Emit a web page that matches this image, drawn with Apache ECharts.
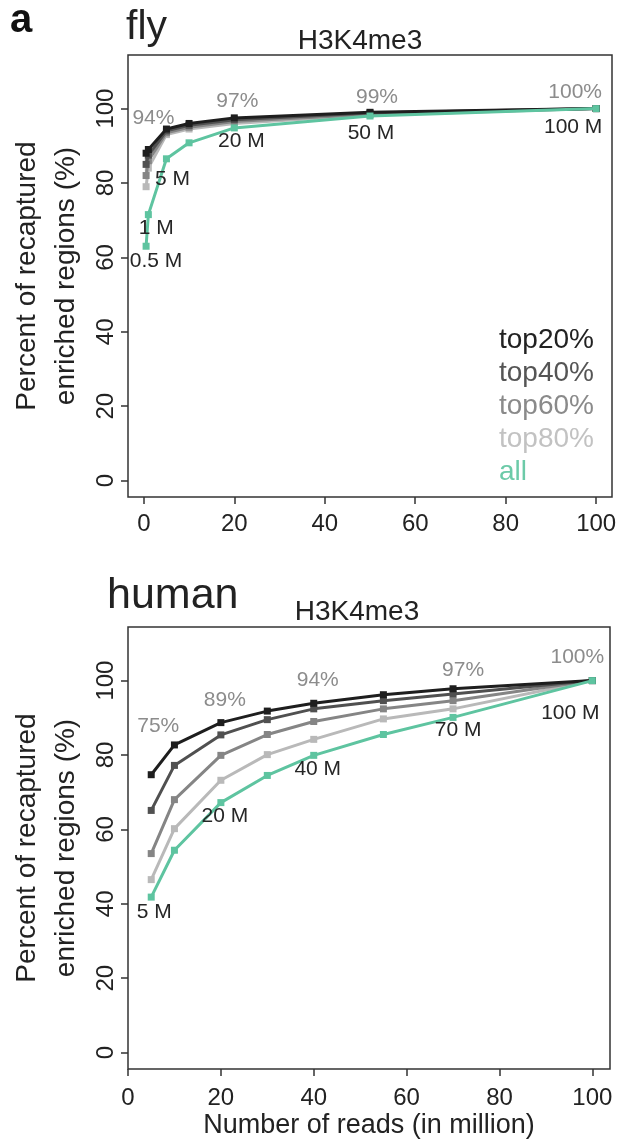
<!DOCTYPE html>
<html><head><meta charset="utf-8">
<script src="https://cdn.jsdelivr.net/npm/echarts@6/dist/echarts.min.js"></script>
<style>html,body{margin:0;padding:0;background:#fff}#c{width:621px;height:1144px}</style>
</head><body><div id="c"></div><script>
// ---------- data ----------
const seriesNames = ['top20%', 'top40%', 'top60%', 'top80%', 'all'];
const xTicks = [0, 20, 40, 60, 80, 100];
const yTicks = [0, 20, 40, 60, 80, 100];

const flyReads = [0.5, 1, 5, 10, 20, 50, 100];
const flyTop20 = [88, 89, 94.5, 96, 97.5, 99, 100];
const flyTop40 = [85, 87.5, 94, 95.5, 97, 98.8, 100];
const flyTop60 = [82, 86, 93.5, 95, 96.5, 98.5, 100];
const flyTop80 = [79, 84, 93, 94.5, 96, 98.3, 100];
const flyAll   = [63, 71.5, 86.5, 90.8, 94.8, 98, 100];
const flyReadLabels = ['0.5 M', '1 M', '5 M', '', '20 M', '50 M', '100 M'];
const flyPctLabels  = ['', '', '94%', '', '97%', '99%', '100%'];

const humanReads = [5, 10, 20, 30, 40, 55, 70, 100];
const humanTop20 = [74.7, 82.7, 88.7, 91.8, 93.9, 96.2, 97.8, 100];
const humanTop40 = [65.1, 77.2, 85.4, 89.5, 92.4, 94.6, 96.4, 100];
const humanTop60 = [53.5, 68.0, 79.9, 85.5, 89.0, 92.4, 94.6, 100];
const humanTop80 = [46.5, 60.2, 73.2, 80.1, 84.2, 89.7, 92.4, 100];
const humanAll   = [41.8, 54.4, 67.2, 74.5, 79.9, 85.5, 90.1, 100];
const humanReadLabels = ['5 M', '', '20 M', '', '40 M', '', '70 M', '100 M'];
const humanPctLabels  = ['75%', '', '89%', '', '94%', '', '97%', '100%'];

// ---------- styles ----------
const lineColors = ['#1e1e1e', '#505050', '#858585', '#b9b9b9', '#5ec4a0'];
const legendColors = ['#222222', '#555555', '#8a8a8a', '#c2c2c2', '#6ccaa8'];
const FONT = '"Liberation Sans", Arial, Helvetica, sans-serif';
const flyReadOff = [[10, 15], [8, 14], [6, 20], [0, 0], [7, 13], [1, 17], [-23, 19]];
const flyPctOff  = [[0, 0], [0, 0], [-13, -11], [0, 0], [3, -17], [7, -15], [-21, -16]];
const humanReadOff = [[3, 15], [0, 0], [4, 14], [0, 0], [4, 14], [0, 0], [5, 13], [-22, 33]];
const humanPctOff  = [[7, -49], [0, 0], [4, -22], [0, 0], [4, -23], [0, 0], [10, -19], [-15, -23]];

function buildSeries(gi, xs, ysList, readLabels, readOff, pctLabels, pctOff) {
  const order = [3, 2, 1, 0, 4];
  return order.map(k => {
    const data = xs.map((x, i) => {
      const item = { value: [x, ysList[k][i]] };
      if (k === 4 && readLabels[i]) {
        item.label = { show: true, formatter: readLabels[i], position: 'inside',
          offset: readOff[i], color: '#262626', fontSize: 21, fontFamily: FONT };
      }
      if (k === 0 && pctLabels[i]) {
        item.label = { show: true, formatter: pctLabels[i], position: 'inside',
          offset: pctOff[i], color: '#8c8c8c', fontSize: 21, fontFamily: FONT };
      }
      return item;
    });
    return {
      name: seriesNames[k], type: 'line', xAxisIndex: gi, yAxisIndex: gi,
      data, symbol: 'rect', symbolSize: 7, showSymbol: true,
      itemStyle: { color: lineColors[k] },
      lineStyle: { color: lineColors[k], width: 3 },
      label: { show: false }, emphasis: { disabled: true },
      z: k === 4 ? 10 : 5 - k, animation: false
    };
  });
}

function xAxisCfg(gi, min, max, margin, name) {
  return {
    type: 'value', gridIndex: gi, min, max,
    axisLine: { show: false, onZero: false },
    axisTick: { show: true, length: 7, lineStyle: { color: '#333', width: 1.5 }, customValues: xTicks },
    axisLabel: { customValues: xTicks, fontSize: 24, color: '#222', fontFamily: FONT, margin },
    splitLine: { show: false },
    name: name || '', nameLocation: 'middle', nameGap: 43,
    nameTextStyle: { fontSize: 27, color: '#222', fontFamily: FONT }
  };
}
function yAxisCfg(gi) {
  return {
    type: 'value', gridIndex: gi, min: -4.4, max: 114.4,
    axisLine: { show: false, onZero: false },
    axisTick: { show: true, length: 7, lineStyle: { color: '#333', width: 1.5 }, customValues: yTicks },
    axisLabel: { customValues: yTicks, fontSize: 24, color: '#222', fontFamily: FONT, rotate: 90, margin: 10 },
    splitLine: { show: false },
    name: 'Percent of recaptured\nenriched regions (%)', nameLocation: 'middle', nameRotate: 90, nameGap: 42,
    nameTextStyle: { fontSize: 28, color: '#222', fontFamily: FONT, lineHeight: 39 }
  };
}

const chart = echarts.init(document.getElementById('c'), null, { renderer: 'canvas' });
chart.setOption({
  backgroundColor: '#fff',
  animation: false,
  grid: [
    { left: 127, top: 55, width: 485, height: 442, show: true, borderColor: '#333', borderWidth: 1.5, backgroundColor: 'transparent' },
    { left: 118, top: 627, width: 492, height: 442, show: true, borderColor: '#333', borderWidth: 1.5, backgroundColor: 'transparent' }
  ],
  xAxis: [xAxisCfg(0, -3.5, 103.5, 15), xAxisCfg(1, 0, 103.8, 17, 'Number of reads (in million)')],
  yAxis: [yAxisCfg(0), yAxisCfg(1)],
  legend: {
    data: seriesNames.map((n, i) => ({ name: n, icon: 'none', textStyle: { color: legendColors[i] } })),
    orient: 'vertical', left: 489, top: 321, itemWidth: 0, itemHeight: 27, itemGap: 5,
    textStyle: { fontSize: 28, fontFamily: FONT, padding: 0 }, selectedMode: false
  },
  graphic: [
    { type: 'text', x: 10, y: 21, style: { text: 'a', font: 'bold 40px ' + FONT, fill: '#111', verticalAlign: 'middle' } },
    { type: 'text', x: 126, y: 28, style: { text: 'fly', font: '41px ' + FONT, fill: '#222', verticalAlign: 'middle' } },
    { type: 'text', x: 360, y: 41, style: { text: 'H3K4me3', font: '28px ' + FONT, fill: '#222', align: 'center', verticalAlign: 'middle' } },
    { type: 'text', x: 107, y: 596, style: { text: 'human', font: '43px ' + FONT, fill: '#222', verticalAlign: 'middle' } },
    { type: 'text', x: 357, y: 612, style: { text: 'H3K4me3', font: '28px ' + FONT, fill: '#222', align: 'center', verticalAlign: 'middle' } }
  ],
  series: [
    ...buildSeries(0, flyReads, [flyTop20, flyTop40, flyTop60, flyTop80, flyAll], flyReadLabels, flyReadOff, flyPctLabels, flyPctOff),
    ...buildSeries(1, humanReads, [humanTop20, humanTop40, humanTop60, humanTop80, humanAll], humanReadLabels, humanReadOff, humanPctLabels, humanPctOff)
  ]
});
</script></body></html>
